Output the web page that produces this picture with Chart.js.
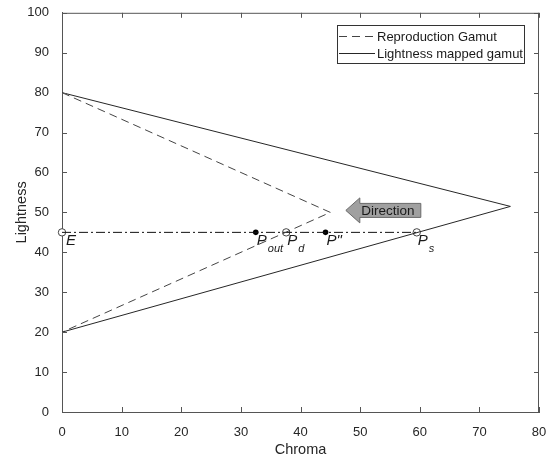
<!DOCTYPE html>
<html>
<head>
<meta charset="utf-8">
<script src="https://cdn.jsdelivr.net/npm/chart.js@4.4.0/dist/chart.umd.min.js"></script>
<style>
  html, body { margin: 0; padding: 0; background: #fff; }
</style>
</head>
<body>
<canvas id="gamutChart" width="553" height="457"></canvas>
<script>
// gamut boundaries (chroma, lightness)
const gamutChroma = [0, 45, 0];
const gamutLightness = [80, 50, 20];
const mappedChroma = [0, 75.2, 0];
const mappedLightness = [80, 51.5, 20];

// mapping line and points on it
const lineChroma = [0, 59.5];
const lineLightness = [45, 45];
const pointNames = ["E", "P|out", "P|d", "P\"", "P|s"];
const pointChroma = [0, 32.5, 37.6, 44.2, 59.5];
const pointLightness = [45, 45, 45, 45, 45];
const pointFilled = [false, true, false, true, false];

const chromaTicks = [0, 10, 20, 30, 40, 50, 60, 70, 80];
const lightnessTicks = [0, 10, 20, 30, 40, 50, 60, 70, 80, 90, 100];

const legendLabels = ["Reproduction Gamut", "Lightness mapped gamut"];

const FONT = "'Liberation Sans', Arial, sans-serif";
const INK = "#1a1a1a";

function toXY(xs, ys) {
  return xs.map((x, i) => ({ x: x, y: ys[i] }));
}

const openIdx = pointFilled.map((f, i) => f ? -1 : i).filter(i => i >= 0);
const filledIdx = pointFilled.map((f, i) => f ? i : -1).filter(i => i >= 0);

const decorPlugin = {
  id: "decor",
  afterDraw(chart) {
    const ctx = chart.ctx;
    const area = chart.chartArea;
    const xs = chart.scales.x;
    const ys = chart.scales.y;

    // box + inward ticks
    ctx.save();
    ctx.strokeStyle = "#555";
    ctx.lineWidth = 1;
    ctx.beginPath();
    ctx.moveTo(area.left, area.top + 0.5);
    ctx.lineTo(area.right, area.top + 0.5);
    ctx.moveTo(area.right - 0.5, area.top);
    ctx.lineTo(area.right - 0.5, area.bottom);
    chromaTicks.forEach(v => {
      const px = Math.round(xs.getPixelForValue(v)) + 0.5;
      ctx.moveTo(px, area.bottom);
      ctx.lineTo(px, area.bottom - 5);
      ctx.moveTo(px, area.top);
      ctx.lineTo(px, area.top + 5);
    });
    lightnessTicks.forEach(v => {
      const py = Math.round(ys.getPixelForValue(v)) + 0.5;
      ctx.moveTo(area.left, py);
      ctx.lineTo(area.left + 5, py);
      ctx.moveTo(area.right, py);
      ctx.lineTo(area.right - 5, py);
    });
    ctx.stroke();
    ctx.restore();

    // legend
    ctx.save();
    const lx = 337, ly = 25, lw = 187, lh = 38;
    ctx.fillStyle = "#fff";
    ctx.fillRect(lx, ly, lw, lh);
    ctx.strokeStyle = "#333";
    ctx.lineWidth = 1;
    ctx.strokeRect(lx + 0.5, ly + 0.5, lw, lh);
    const rows = [36, 53];
    legendLabels.forEach((label, i) => {
      const ds = chart.data.datasets[i];
      ctx.beginPath();
      ctx.setLineDash(ds.borderDash || []);
      ctx.strokeStyle = ds.borderColor;
      ctx.moveTo(lx + 2, rows[i] + 0.5);
      ctx.lineTo(lx + 38, rows[i] + 0.5);
      ctx.stroke();
      ctx.setLineDash([]);
      ctx.fillStyle = INK;
      ctx.font = "13px " + FONT;
      ctx.textBaseline = "middle";
      ctx.textAlign = "left";
      ctx.fillText(label, lx + 40, rows[i] + 1);
    });
    ctx.restore();

    // direction arrow
    ctx.save();
    const tipX = xs.getPixelForValue(47.6);
    const tipY = ys.getPixelForValue(50.5);
    const headLen = 14, headH = 12.5, bodyH = 7, bodyLen = 61;
    ctx.beginPath();
    ctx.moveTo(tipX, tipY);
    ctx.lineTo(tipX + headLen, tipY - headH);
    ctx.lineTo(tipX + headLen, tipY - bodyH);
    ctx.lineTo(tipX + headLen + bodyLen, tipY - bodyH);
    ctx.lineTo(tipX + headLen + bodyLen, tipY + bodyH);
    ctx.lineTo(tipX + headLen, tipY + bodyH);
    ctx.lineTo(tipX + headLen, tipY + headH);
    ctx.closePath();
    ctx.fillStyle = "#a0a0a0";
    ctx.fill();
    ctx.strokeStyle = "#6a6a6a";
    ctx.lineWidth = 1;
    ctx.stroke();
    ctx.fillStyle = INK;
    ctx.font = "13.5px " + FONT;
    ctx.textAlign = "center";
    ctx.textBaseline = "middle";
    ctx.fillText("Direction", tipX + 42, tipY + 0.5);
    ctx.restore();

    // point labels
    ctx.save();
    ctx.fillStyle = INK;
    ctx.textAlign = "left";
    ctx.textBaseline = "alphabetic";
    pointNames.forEach((name, i) => {
      const px = xs.getPixelForValue(pointChroma[i]);
      const py = ys.getPixelForValue(pointLightness[i]);
      const parts = name.split("|");
      const x0 = i === 0 ? px + 4 : px + 1;
      ctx.font = "italic 15px " + FONT;
      ctx.fillText(parts[0], x0, py + 13);
      if (parts[1]) {
        const w = ctx.measureText(parts[0]).width;
        ctx.font = "italic 11px " + FONT;
        ctx.fillText(parts[1], x0 + w + 1, py + 20);
      }
    });
    ctx.restore();
  }
};

new Chart(document.getElementById("gamutChart"), {
  type: "scatter",
  data: {
    datasets: [
      {
        label: legendLabels[0],
        data: toXY(gamutChroma, gamutLightness),
        showLine: true,
        borderColor: "#444",
        borderWidth: 1,
        borderDash: [8, 5],
        pointRadius: 0,
        fill: false
      },
      {
        label: legendLabels[1],
        data: toXY(mappedChroma, mappedLightness),
        showLine: true,
        borderColor: "#262626",
        borderWidth: 1,
        pointRadius: 0,
        fill: false
      },
      {
        label: "mapping",
        data: toXY(lineChroma, lineLightness),
        showLine: true,
        borderColor: "#111",
        borderWidth: 1,
        borderDash: [9, 3, 2, 3],
        pointRadius: 0,
        fill: false
      },
      {
        label: "open",
        data: openIdx.map(i => ({ x: pointChroma[i], y: pointLightness[i] })),
        pointRadius: 3.7,
        pointBackgroundColor: "#fff",
        pointBorderColor: "#444",
        pointBorderWidth: 1,
        clip: false
      },
      {
        label: "filled",
        data: filledIdx.map(i => ({ x: pointChroma[i], y: pointLightness[i] })),
        pointRadius: 2.8,
        pointBackgroundColor: "#000",
        pointBorderColor: "#000",
        pointBorderWidth: 0,
        clip: false
      }
    ]
  },
  options: {
    responsive: false,
    animation: false,
    layout: { padding: { left: 0, top: 12, right: 14, bottom: 0 } },
    plugins: {
      legend: { display: false },
      tooltip: { enabled: false }
    },
    scales: {
      x: {
        type: "linear",
        min: 0,
        max: 80,
        afterBuildTicks: axis => { axis.ticks = chromaTicks.map(v => ({ value: v })); },
        afterFit: axis => { axis.height = 45; },
        grid: { display: false },
        border: { display: true, color: "#555", width: 1 },
        ticks: { color: "#262626", font: { family: FONT, size: 13 }, padding: 5, maxRotation: 0 },
        title: { display: true, text: "Chroma", color: "#262626", font: { family: FONT, size: 14.5 }, padding: { top: 0, bottom: -2 } }
      },
      y: {
        type: "linear",
        min: 0,
        max: 100,
        afterBuildTicks: axis => { axis.ticks = lightnessTicks.map(v => ({ value: v })); },
        afterFit: axis => { axis.width = 62; },
        grid: { display: false },
        border: { display: true, color: "#555", width: 1 },
        ticks: { color: "#262626", font: { family: FONT, size: 13 }, padding: 5 },
        title: { display: true, text: "Lightness", color: "#262626", font: { family: FONT, size: 14.5 }, padding: { top: 13, bottom: 0 } }
      }
    }
  },
  plugins: [decorPlugin]
});
</script>
</body>
</html>
